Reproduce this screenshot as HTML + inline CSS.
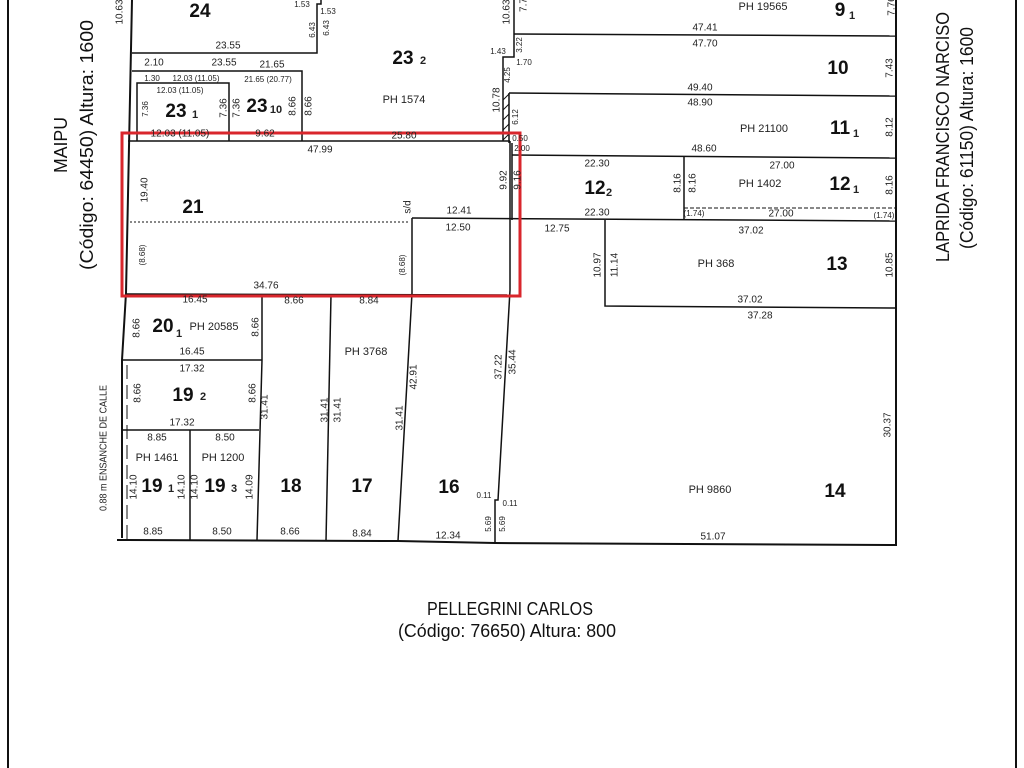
<!DOCTYPE html>
<html><head><meta charset="utf-8"><style>
html,body{margin:0;padding:0;background:#fff;width:1024px;height:768px;overflow:hidden}
svg{display:block}
text{font-family:"Liberation Sans Narrow","Liberation Sans",sans-serif;fill:#222;font-size:10px;text-anchor:middle;dominant-baseline:middle}
.b{font-family:"Liberation Sans",sans-serif;font-weight:bold;font-size:19px;fill:#111}
.s{font-family:"Liberation Sans",sans-serif;font-weight:bold;font-size:11px}
.p{font-family:"Liberation Sans",sans-serif;font-size:11px}
.st{font-size:18px;fill:#111}
.t{font-size:8px}
line,polyline,path{stroke:#111;fill:none}
</style></head><body>
<svg width="1024" height="768" viewBox="0 0 1024 768">
<line x1="8" y1="0" x2="8" y2="768" stroke-width="2"/>
<line x1="1016" y1="0" x2="1016" y2="768" stroke-width="2"/>
<g stroke-width="2">
<polyline points="132,0 126,293 122,360 122,538"/>
<polyline points="117,540 398,541 495,543 896,545 896,0"/>
</g>
<g stroke-width="1.5">
<polyline points="132,53 317,53 317,4 321,4 321,0"/>
<polyline points="132,71 302,71 302,141"/>
<polyline points="137,141 137,83 229,83 229,141"/>
<line x1="128" y1="141" x2="510" y2="141"/>
<polyline points="514,0 514,57 503,57 503,141"/>
<line x1="509" y1="93" x2="509" y2="143"/>
<line x1="514" y1="34" x2="896" y2="36"/>
<line x1="509" y1="93" x2="896" y2="96"/>
<line x1="512" y1="155" x2="896" y2="158"/>
<line x1="512" y1="143" x2="512" y2="220"/>
<polyline points="510,141 510,290 498,500 495,500 495,543"/>
<line x1="684" y1="157" x2="684" y2="220"/>
<line x1="412" y1="218" x2="896" y2="221"/>
<polyline points="605,220 605,306 896,308"/>
<polyline points="412,218 412,293 398,541"/>
<line x1="126" y1="294" x2="507" y2="295"/>
<polyline points="262,294 262,360 257,540"/>
<line x1="331" y1="295" x2="326" y2="541"/>
<line x1="122" y1="360" x2="262" y2="360"/>
<line x1="122" y1="430" x2="259" y2="430"/>
<line x1="190" y1="430" x2="190" y2="540"/>
</g>
<line x1="130" y1="222" x2="410" y2="222" stroke-dasharray="2,2" stroke-width="1"/>
<line x1="684" y1="208" x2="896" y2="208" stroke-dasharray="4,2" stroke-width="1"/>
<line x1="127" y1="365" x2="127" y2="540" stroke-dasharray="14,6" stroke-width="1"/>
<g stroke-width="1"><line x1="503" y1="100" x2="509" y2="94"/><line x1="503" y1="110" x2="509" y2="104"/><line x1="503" y1="120" x2="509" y2="114"/><line x1="503" y1="130" x2="509" y2="124"/><line x1="503" y1="140" x2="509" y2="134"/></g>
<rect x="122" y="133" width="398" height="163" fill="none" stroke="#d9262c" stroke-width="3"/>

<g transform="translate(62,145) rotate(-90)"><text class="st" textLength="56" lengthAdjust="spacingAndGlyphs">MAIPU</text></g>
<g transform="translate(88,145) rotate(-90)"><text class="st" textLength="250" lengthAdjust="spacingAndGlyphs">(Código: 64450) Altura: 1600</text></g>
<g transform="translate(944,137) rotate(-90)"><text class="st" textLength="250" lengthAdjust="spacingAndGlyphs">LAPRIDA FRANCISCO NARCISO</text></g>
<g transform="translate(968,138) rotate(-90)"><text class="st" textLength="222" lengthAdjust="spacingAndGlyphs">(Código: 61150) Altura: 1600</text></g>
<g transform="translate(104,448) rotate(-90)"><text style="font-size:10px" textLength="126" lengthAdjust="spacingAndGlyphs">0.88 m ENSANCHE DE CALLE</text></g>
<text class="st" x="510" y="610" textLength="166" lengthAdjust="spacingAndGlyphs">PELLEGRINI CARLOS</text>
<text class="st" x="507" y="632" textLength="218" lengthAdjust="spacingAndGlyphs">(Código: 76650) Altura: 800</text>

<text class="b" x="200" y="12">24</text>
<text class="b" x="176" y="112">23</text><text class="s" x="195" y="115">1</text>
<text class="b" x="257" y="107">23</text><text class="s" x="276" y="110">10</text>
<text class="b" x="403" y="59">23</text><text class="s" x="423" y="61">2</text>
<text class="b" x="193" y="208">21</text>
<text class="b" x="840" y="11">9</text><text class="s" x="852" y="16">1</text>
<text class="b" x="838" y="69">10</text>
<text class="b" x="840" y="129">11</text><text class="s" x="856" y="134">1</text>
<text class="b" x="840" y="185">12</text><text class="s" x="856" y="190">1</text>
<text class="b" x="595" y="189">12</text><text class="s" x="609" y="193">2</text>
<text class="b" x="837" y="265">13</text>
<text class="b" x="163" y="327">20</text><text class="s" x="179" y="334">1</text>
<text class="b" x="183" y="396">19</text><text class="s" x="203" y="397">2</text>
<text class="b" x="152" y="487">19</text><text class="s" x="171" y="489">1</text>
<text class="b" x="215" y="487">19</text><text class="s" x="234" y="489">3</text>
<text class="b" x="291" y="487">18</text>
<text class="b" x="362" y="487">17</text>
<text class="b" x="449" y="488">16</text>
<text class="b" x="835" y="492">14</text>

<text class="p" x="404" y="100">PH 1574</text>
<text class="p" x="763" y="7">PH 19565</text>
<text class="p" x="764" y="129">PH 21100</text>
<text class="p" x="760" y="184">PH 1402</text>
<text class="p" x="716" y="264">PH 368</text>
<text class="p" x="214" y="327">PH 20585</text>
<text class="p" x="366" y="352">PH 3768</text>
<text class="p" x="157" y="458">PH 1461</text>
<text class="p" x="223" y="458">PH 1200</text>
<text class="p" x="710" y="490">PH 9860</text>

<text x="228" y="46">23.55</text><text x="154" y="63">2.10</text><text x="224" y="63">23.55</text><text x="272" y="65">21.65</text>
<text class="t" x="152" y="79">1.30</text><text class="t" x="196" y="79">12.03 (11.05)</text><text class="t" x="268" y="80">21.65 (20.77)</text><text class="t" x="180" y="91">12.03 (11.05)</text>
<text class="t" x="302" y="5">1.53</text><text class="t" x="328" y="12">1.53</text><text class="t" x="498" y="52">1.43</text><text class="t" x="524" y="63">1.70</text>
<text x="180" y="134">12.03 (11.05)</text><text x="265" y="134">9.62</text><text x="404" y="136">25.80</text>
<text x="320" y="150">47.99</text><text x="459" y="211">12.41</text><text x="458" y="228">12.50</text>
<text class="t" x="520" y="139">0.50</text><text class="t" x="522" y="149">2.00</text>
<text x="266" y="286">34.76</text>
<text x="705" y="28">47.41</text><text x="705" y="44">47.70</text><text x="700" y="88">49.40</text><text x="700" y="103">48.90</text><text x="704" y="149">48.60</text>
<text x="597" y="164">22.30</text><text x="782" y="166">27.00</text><text x="597" y="213">22.30</text><text class="t" x="694" y="214">(1.74)</text><text x="781" y="214">27.00</text><text class="t" x="884" y="216">(1.74)</text>
<text x="557" y="229">12.75</text><text x="751" y="231">37.02</text><text x="750" y="300">37.02</text><text x="760" y="316">37.28</text>
<text x="195" y="300">16.45</text><text x="294" y="301">8.66</text><text x="369" y="301">8.84</text>
<text x="192" y="352">16.45</text><text x="192" y="369">17.32</text><text x="182" y="423">17.32</text>
<text x="157" y="438">8.85</text><text x="225" y="438">8.50</text>
<text class="t" x="484" y="496">0.11</text><text class="t" x="510" y="504">0.11</text>
<text x="153" y="532">8.85</text><text x="222" y="532">8.50</text><text x="290" y="532">8.66</text><text x="362" y="534">8.84</text><text x="448" y="536">12.34</text><text x="713" y="537">51.07</text>

<g>
<text transform="translate(120,12) rotate(-90)">10.63</text>
<text class="t" transform="translate(313,30) rotate(-90)">6.43</text>
<text class="t" transform="translate(327,28) rotate(-90)">6.43</text>
<text class="t" transform="translate(146,109) rotate(-90)">7.36</text>
<text transform="translate(224,108) rotate(-90)">7.36</text>
<text transform="translate(237,108) rotate(-90)">7.36</text>
<text transform="translate(293,106) rotate(-90)">8.66</text>
<text transform="translate(309,106) rotate(-90)">8.66</text>
<text transform="translate(497,100) rotate(-90)">10.78</text>
<text class="t" transform="translate(508,75) rotate(-90)">4.25</text>
<text class="t" transform="translate(520,45) rotate(-90)">3.22</text>
<text transform="translate(507,12) rotate(-90)">10.63</text>
<text transform="translate(524,5) rotate(-90)">7.7</text>
<text class="t" transform="translate(516,117) rotate(-90)">6.12</text>
<text transform="translate(145,190) rotate(-90)">19.40</text>
<text transform="translate(408,207) rotate(-90)">s/d</text>
<text transform="translate(504,180) rotate(-90)">9.92</text>
<text transform="translate(518,180) rotate(-90)">9.16</text>
<text class="t" transform="translate(143,255) rotate(-90)">(8.68)</text>
<text class="t" transform="translate(403,265) rotate(-90)">(8.68)</text>
<text transform="translate(892,6) rotate(-90)">7.76</text>
<text transform="translate(890,68) rotate(-90)">7.43</text>
<text transform="translate(890,127) rotate(-90)">8.12</text>
<text transform="translate(678,183) rotate(-90)">8.16</text>
<text transform="translate(693,183) rotate(-90)">8.16</text>
<text transform="translate(890,185) rotate(-90)">8.16</text>
<text transform="translate(598,265) rotate(-90)">10.97</text>
<text transform="translate(615,265) rotate(-90)">11.14</text>
<text transform="translate(890,265) rotate(-90)">10.85</text>
<text transform="translate(137,328) rotate(-90)">8.66</text>
<text transform="translate(256,327) rotate(-90)">8.66</text>
<text transform="translate(138,393) rotate(-90)">8.66</text>
<text transform="translate(253,393) rotate(-90)">8.66</text>
<text transform="translate(265,407) rotate(-90)">31.41</text>
<text transform="translate(325,410) rotate(-90)">31.41</text>
<text transform="translate(338,410) rotate(-90)">31.41</text>
<text transform="translate(400,418) rotate(-90)">31.41</text>
<text transform="translate(414,377) rotate(-90)">42.91</text>
<text transform="translate(499,367) rotate(-90)">37.22</text>
<text transform="translate(513,362) rotate(-90)">35.44</text>
<text transform="translate(134,487) rotate(-90)">14.10</text>
<text transform="translate(182,487) rotate(-90)">14.10</text>
<text transform="translate(195,487) rotate(-90)">14.10</text>
<text transform="translate(250,487) rotate(-90)">14.09</text>
<text class="t" transform="translate(489,524) rotate(-90)">5.69</text>
<text class="t" transform="translate(503,524) rotate(-90)">5.69</text>
<text transform="translate(888,425) rotate(-90)">30.37</text>
</g>
</svg>
</body></html>
